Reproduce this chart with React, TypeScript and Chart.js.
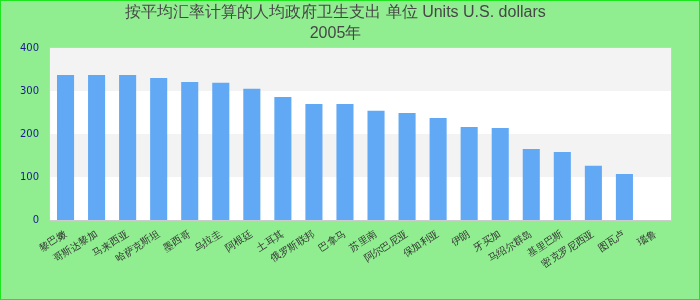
import React, { useEffect, useRef } from "react";
import { Chart, registerables } from "chart.js";

Chart.register(...registerables);

const titleLines = ["按平均汇率计算的人均政府卫生支出 单位 Units U.S. dollars", "2005年"];

const categories = [
  "黎巴嫩",
  "哥斯达黎加",
  "马来西亚",
  "哈萨克斯坦",
  "墨西哥",
  "乌拉圭",
  "阿根廷",
  "土耳其",
  "俄罗斯联邦",
  "巴拿马",
  "苏里南",
  "阿尔巴尼亚",
  "保加利亚",
  "伊朗",
  "牙买加",
  "马绍尔群岛",
  "基里巴斯",
  "密克罗尼西亚",
  "图瓦卢",
  "瑙鲁",
];

const values: (number | null)[] = [
  337, 337, 337, 330, 321, 319, 305, 286, 270, 270, 254, 249, 237, 216, 214, 165, 158, 126, 107, null,
];

const yTicks = [0, 100, 200, 300, 400];

const bandPlugin = {
  id: "bands",
  beforeDraw(chart: any) {
    const { ctx, chartArea, scales } = chart;
    ctx.save();
    ctx.fillStyle = "#90ee90";
    ctx.fillRect(0, 0, chart.width, chart.height);
    ctx.strokeStyle = "#1ee61e";
    ctx.lineWidth = 1;
    ctx.strokeRect(0.5, 0.5, chart.width - 1, chart.height - 1);
    const y = scales.y;
    for (let i = 0; i < yTicks.length - 1; i++) {
      const top = y.getPixelForValue(yTicks[i + 1]);
      const bottom = y.getPixelForValue(yTicks[i]);
      ctx.fillStyle = i % 2 === 0 ? "#ffffff" : "#f3f3f3";
      ctx.fillRect(chartArea.left, top, chartArea.right - chartArea.left, bottom - top);
    }
    ctx.restore();
  },
  afterDatasetsDraw(chart: any) {
    const { ctx, chartArea } = chart;
    ctx.save();
    ctx.strokeStyle = "#cccccc";
    ctx.lineWidth = 1;
    ctx.strokeRect(
      chartArea.left - 0.5,
      chartArea.top - 0.5,
      chartArea.right - chartArea.left + 1,
      chartArea.bottom - chartArea.top + 1
    );
    ctx.restore();
  },
};

export default function App() {
  const ref = useRef<HTMLCanvasElement | null>(null);

  useEffect(() => {
    if (!ref.current) return;
    const chart = new Chart(ref.current, {
      type: "bar",
      data: {
        labels: categories,
        datasets: [
          {
            data: values,
            backgroundColor: "#62a9f5",
            borderWidth: 0,
            categoryPercentage: 1,
            barPercentage: 0.55,
          },
        ],
      },
      options: {
        animation: false,
        responsive: false,
        layout: { padding: { left: 0, right: 29, top: 0, bottom: 0 } },
        plugins: {
          legend: { display: false },
          tooltip: { enabled: false },
          title: {
            display: true,
            text: titleLines,
            color: "#474747",
            font: { family: "'Liberation Sans', Arial, sans-serif", size: 16, weight: "normal", lineHeight: 1.3125 },
            padding: { top: 2, bottom: 4 },
          },
        },
        scales: {
          x: {
            grid: { display: false, drawTicks: false },
            border: { display: false },
            ticks: {
              autoSkip: false,
              maxRotation: 33,
              minRotation: 33,
              padding: 8,
              color: "#333333",
              font: { family: "'DejaVu Sans', sans-serif", size: 10 },
            },
            afterFit(s: any) {
              s.height = 80;
            },
          },
          y: {
            min: 0,
            max: 400,
            grid: { display: false, drawTicks: false },
            border: { display: false },
            ticks: {
              stepSize: 100,
              color: "#1a1a8f",
              padding: 11,
              font: { family: "'DejaVu Sans', sans-serif", size: 10 },
            },
            afterFit(s: any) {
              s.width = 50;
            },
          },
        },
      },
      plugins: [bandPlugin],
    });
    return () => chart.destroy();
  }, []);

  return (
    <div style={{ position: "absolute", left: 0, top: 0, width: 700, height: 300 }}>
      <canvas ref={ref} width={700} height={300} style={{ display: "block", width: 700, height: 300 }} />
    </div>
  );
}
